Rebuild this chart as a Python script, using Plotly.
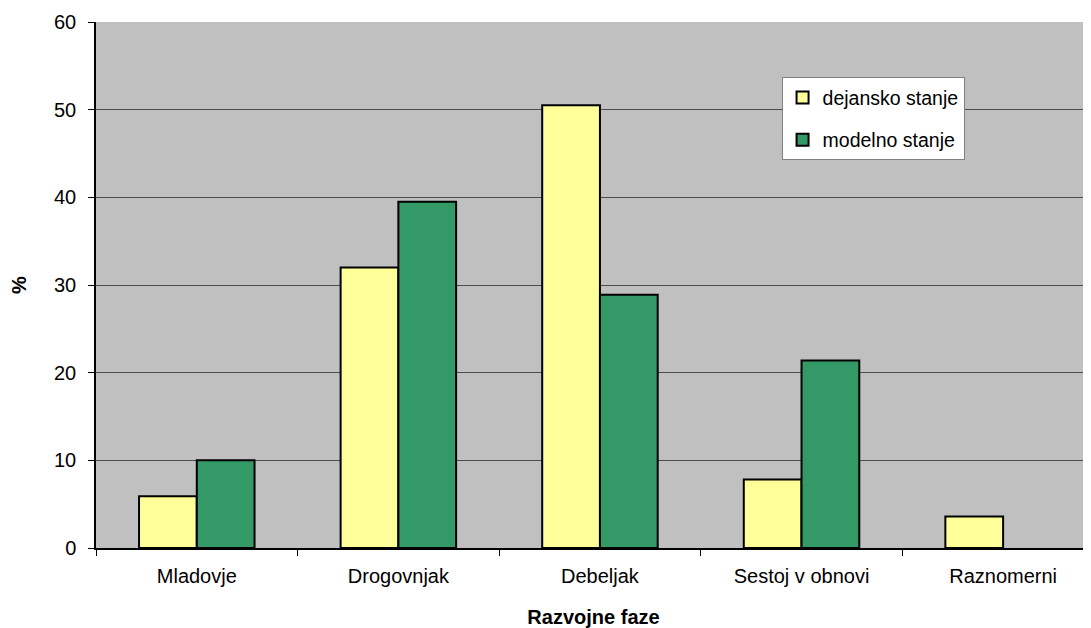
import plotly.graph_objects as go

categories = ["Mladovje", "Drogovnjak", "Debeljak", "Sestoj v obnovi", "Raznomerni"]
dejansko = [5.9, 32.0, 50.5, 7.8, 3.6]
modelno = [10.0, 39.5, 28.9, 21.4, None]
y_ticks = [0, 10, 20, 30, 40, 50, 60]

FONT = "Liberation Sans, Arial, sans-serif"

fig = go.Figure()
fig.add_trace(go.Bar(
    x=categories, y=dejansko, name="dejansko stanje", legendgroup="a",
    marker=dict(color="#FFFF99", line=dict(color="#000000", width=2)),
))
fig.add_trace(go.Bar(
    x=categories, y=modelno, name="modelno stanje", legendgroup="b",
    marker=dict(color="#339966", line=dict(color="#000000", width=2)),
))

fig.update_layout(
    width=1083, height=620,
    margin=dict(l=84, r=0, t=14, b=80),
    paper_bgcolor="#FFFFFF",
    plot_bgcolor="#C0C0C0",
    font=dict(family=FONT, size=20, color="#000000"),
    barmode="group", bargap=0.427, bargroupgap=0,
    showlegend=True,
    legend=dict(
        x=0.689, y=0.895, xanchor="left", yanchor="top",
        bgcolor="#FFFFFF", bordercolor="#808080", borderwidth=1,
        font=dict(family=FONT, size=19.5, color="#000000"),
        tracegroupgap=14,
    ),
    xaxis=dict(
        range=[-0.5, 4.436],
        showgrid=False, zeroline=False,
        showline=True, linecolor="#000000", linewidth=1.5,
        ticks="outside", ticklen=6, tickcolor="#000000", tickson="boundaries",
        tickfont=dict(family=FONT, size=20),
        ticklabelstandoff=9,
        title=dict(text="<b>Razvojne faze</b>", font=dict(family=FONT, size=20), standoff=24),
    ),
    yaxis=dict(
        range=[0, 60], tickvals=y_ticks,
        showgrid=True, gridcolor="#4D4D4D", gridwidth=1,
        zeroline=False,
        showline=True, linecolor="#000000", linewidth=1.5,
        ticks="outside", ticklen=6, tickcolor="#000000",
        tickfont=dict(family=FONT, size=20),
        ticklabelstandoff=8,
        title=dict(text="<b>%</b>", font=dict(family=FONT, size=20), standoff=32),
    ),
)

fig.write_html("out.html")
